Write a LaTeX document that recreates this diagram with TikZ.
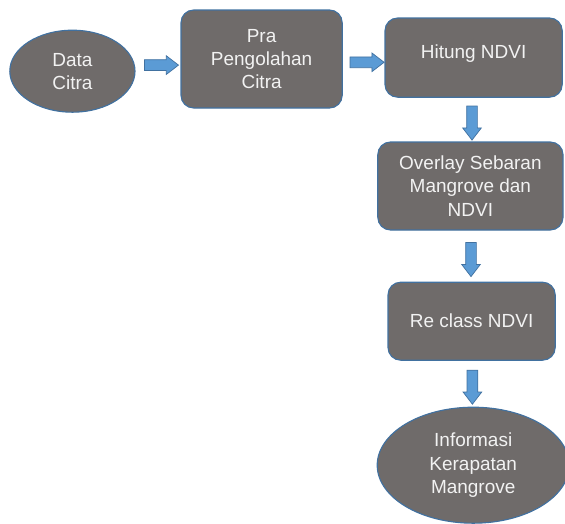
\documentclass[tikz,border=0pt]{standalone}
\usepackage{fontspec}
\setmainfont{Liberation Sans}
\usepackage{tikz}
\usetikzlibrary{shapes.geometric, shapes.arrows, positioning, calc}
\definecolor{mygray}{RGB}{111,107,106}
\definecolor{myedge}{RGB}{65,113,160}
\definecolor{myblue}{RGB}{91,155,213}
\definecolor{mytext}{RGB}{242,242,242}
\tikzset{
  box/.style={rectangle, draw=myedge, fill=mygray, text=mytext,
    align=center, rounded corners=9pt, inner sep=0pt,
    font=\fontsize{13.5}{16.5}\selectfont, line width=0.8pt},
  oval/.style={ellipse, draw=myedge, fill=mygray, text=mytext,
    align=center, inner sep=0pt,
    font=\fontsize{13.5}{16.5}\selectfont, line width=0.8pt},
  fatarrow/.style={single arrow, draw=myedge, fill=myblue,
    minimum height=0.85cm, inner xsep=0pt, inner ysep=0.125cm,
    single arrow head extend=0.1cm, single arrow tip angle=75,
    line width=0.5pt},
  fatdown/.style={fatarrow, rotate=-90}
}

\begin{document}
\begin{tikzpicture}
  \useasboundingbox (0,0) rectangle (14.125,-13.075);

  % Top row
  \node[oval, minimum width=3.13cm, minimum height=2.05cm] (data) at (1.81,-1.78) {Data\\Citra};
  \node[box, minimum width=4.03cm, minimum height=2.45cm] (pra) at (6.54,-1.475) {Pra\\Pengolahan\\Citra};
  \node[box, minimum width=4.43cm, minimum height=1.98cm, text depth=0.3cm] (hitung) at (11.84,-1.44) {Hitung NDVI};

  % Right column
  \node[box, minimum width=4.63cm, minimum height=2.2cm] (overlay) at (11.76,-4.65) {Overlay Sebaran\\Mangrove dan\\NDVI};
  \node[box, minimum width=4.18cm, minimum height=1.95cm] (reclass) at (11.79,-8.03) {Re class NDVI};
  \node[oval, minimum width=4.8cm, minimum height=2.9cm] (info) at (11.83,-11.63) {Informasi\\Kerapatan\\Mangrove};

  % Block arrows
  \path (data.east) -- node[fatarrow] {} (pra.west);
  \path (pra.east) -- node[fatarrow, yshift=-0.1cm] {} (hitung.west);
  \path (hitung.south) -- node[fatdown] {} (overlay.north);
  \path (overlay.south) -- node[fatdown] {} (reclass.north);
  \path (reclass.south) -- node[fatdown] {} (info.north);
\end{tikzpicture}
\end{document}
